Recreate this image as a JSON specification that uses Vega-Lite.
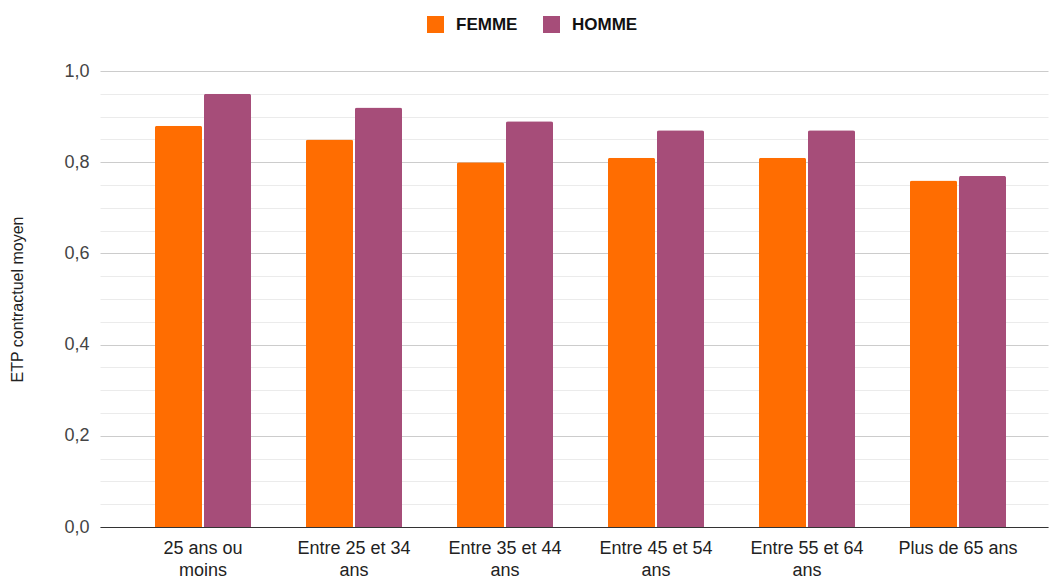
{
  "$schema": "https://vega.github.io/schema/vega-lite/v6.json",
  "autosize": "none",
  "width": 948,
  "height": 456,
  "padding": {"left": 100, "top": 71, "right": 1, "bottom": 49},
  "background": "white",
  "config": {
    "font": "Liberation Sans",
    "view": {"stroke": null}
  },
  "data": {
    "values": [
      {"age": "25 ans ou moins", "sexe": "FEMME", "etp": 0.88},
      {"age": "25 ans ou moins", "sexe": "HOMME", "etp": 0.95},
      {"age": "Entre 25 et 34 ans", "sexe": "FEMME", "etp": 0.85},
      {"age": "Entre 25 et 34 ans", "sexe": "HOMME", "etp": 0.92},
      {"age": "Entre 35 et 44 ans", "sexe": "FEMME", "etp": 0.80},
      {"age": "Entre 35 et 44 ans", "sexe": "HOMME", "etp": 0.89},
      {"age": "Entre 45 et 54 ans", "sexe": "FEMME", "etp": 0.81},
      {"age": "Entre 45 et 54 ans", "sexe": "HOMME", "etp": 0.87},
      {"age": "Entre 55 et 64 ans", "sexe": "FEMME", "etp": 0.81},
      {"age": "Entre 55 et 64 ans", "sexe": "HOMME", "etp": 0.87},
      {"age": "Plus de 65 ans", "sexe": "FEMME", "etp": 0.76},
      {"age": "Plus de 65 ans", "sexe": "HOMME", "etp": 0.77}
    ]
  },
  "mark": {"type": "bar", "cornerRadiusEnd": 2},
  "encoding": {
    "x": {
      "field": "age",
      "type": "nominal",
      "sort": null,
      "scale": {"paddingInner": 0.364, "paddingOuter": 0.321, "align": 0.567},
      "axis": {
        "title": null,
        "labelAngle": 0,
        "labelFontSize": 18,
        "labelColor": "#222222",
        "labelPadding": 12,
        "labelLineHeight": 22,
        "labelBaseline": "top",
        "labelExpr": "length(datum.label) > 14 ? [slice(datum.label, 0, lastindexof(datum.label, ' ')), slice(datum.label, lastindexof(datum.label, ' ') + 1)] : datum.label",
        "ticks": false,
        "domainColor": "#333333",
        "domainWidth": 1,
        "grid": false
      }
    },
    "xOffset": {
      "field": "sexe",
      "type": "nominal",
      "scale": {"paddingInner": 0.04}
    },
    "y": {
      "field": "etp",
      "type": "quantitative",
      "scale": {"domain": [0, 1], "nice": false},
      "axis": {
        "title": "ETP contractuel moyen",
        "titleFontSize": 16,
        "titleFontWeight": "normal",
        "titleColor": "#222222",
        "titleX": -83,
        "titleY": 228,
        "titleAngle": -90,
        "titleAlign": "center",
        "titleBaseline": "middle",
        "values": [0, 0.05, 0.1, 0.15, 0.2, 0.25, 0.3, 0.35, 0.4, 0.45, 0.5, 0.55, 0.6, 0.65, 0.7, 0.75, 0.8, 0.85, 0.9, 0.95, 1.0],
        "labelExpr": "abs(datum.value * 5 - round(datum.value * 5)) < 0.001 ? replace(format(datum.value, '.1f'), '.', ',') : ''",
        "labelFontSize": 18,
        "labelColor": "#444444",
        "labelPadding": 11,
        "ticks": false,
        "domain": false,
        "grid": true,
        "gridColor": {
          "condition": {"test": "abs(datum.value * 5 - round(datum.value * 5)) < 0.001", "value": "#cccccc"},
          "value": "#ebebeb"
        }
      }
    },
    "color": {
      "field": "sexe",
      "type": "nominal",
      "scale": {"domain": ["FEMME", "HOMME"], "range": ["#ff6d01", "#a64d79"]},
      "legend": {
        "title": null,
        "orient": "none",
        "direction": "horizontal",
        "legendX": 327,
        "legendY": -55,
        "symbolType": "square",
        "symbolSize": 289,
        "symbolStrokeWidth": 0,
        "labelFontSize": 17,
        "labelFontWeight": "bold",
        "labelColor": "#111111",
        "labelOffset": 12,
        "columnPadding": 25
      }
    }
  }
}
